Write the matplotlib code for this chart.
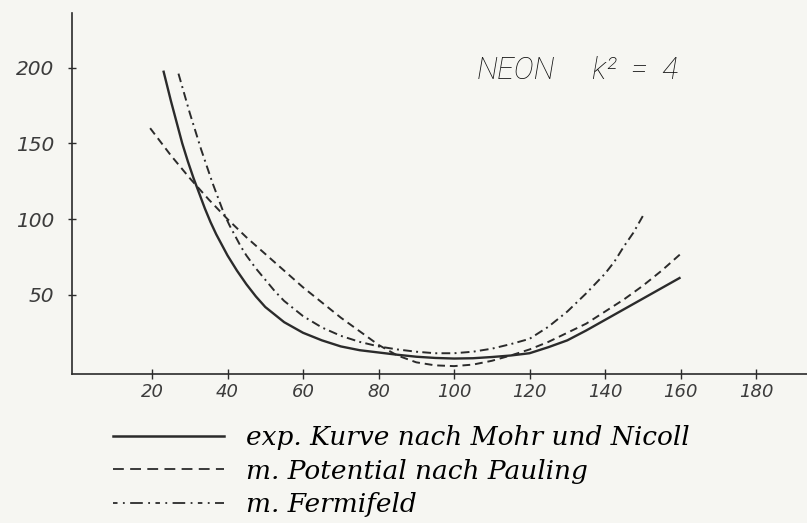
#!/usr/bin/env python3
"""
Neon, k^2 = 4: experimental curve compared with two model calculations.
"""

import matplotlib
matplotlib.use("Agg")
import matplotlib.pyplot as plt
from matplotlib.lines import Line2D

# exp. curve (Mohr and Nicoll)
exp_x = [23, 24, 25, 26.5, 28, 29.5, 31, 32.5, 34, 35.5, 37, 38.5, 40, 42.5,
         45, 47.5, 50, 55, 60, 65, 70, 75, 80, 85, 90, 95, 100, 105, 110, 115,
         120, 125, 130, 135, 140, 145, 150, 155, 160]
exp_y = [198, 188, 178, 164, 150, 138, 127, 117, 107, 98, 90, 83, 76, 66,
         57, 49, 42, 32, 25, 20, 16, 13.5, 12, 10.5, 9.2, 8.4, 8, 8.2, 9, 10,
         11.5, 15.5, 20, 26.5, 33.5, 40.5, 47.5, 54.5, 61.5]

# Pauling potential
pauling_x = [19.5, 25, 30, 35, 40, 45, 50, 55, 60, 65, 70, 75, 80, 85, 90, 95,
             100, 105, 110, 115, 120, 125, 130, 135, 140, 145, 150, 155, 160]
pauling_y = [160, 142, 127, 113, 100, 88, 77, 66, 55, 45, 35, 26, 17, 10, 5.5,
             3.5, 3, 4, 6.5, 10, 14, 19, 25, 31, 39, 47, 56, 66, 77]

# Fermi field
fermi_x = [27, 28.5, 30, 31.5, 33, 34.5, 36, 37.5, 39, 40.5, 42, 43.5, 45,
           47.5, 50, 52.5, 55, 60, 65, 70, 75, 80, 85, 90, 95, 100, 105, 110,
           115, 120, 125, 130, 135, 140, 142.5, 145, 147.5, 150]
fermi_y = [196, 183, 170, 158, 146, 135, 124, 114, 104, 96, 89, 82, 76,
           67.5, 60, 52.5, 46, 36, 28.5, 23, 19, 16, 14, 12.5, 11.5, 11.5,
           12.5, 14.5, 17.5, 21, 29, 39, 51, 64, 72, 82, 91, 102]

x_ticks = [20, 40, 60, 80, 100, 120, 140, 160, 180]
y_ticks = [50, 100, 150, 200]

labels = ["exp. Kurve nach Mohr und Nicoll",
          "m. Potential nach Pauling",
          "m. Fermifeld"]

INK = "#2b2b2b"
PAPER = "#f6f6f2"


def main():
    fig = plt.figure(figsize=(8.07, 5.23), dpi=100, facecolor=PAPER)
    ax = fig.add_axes([72 / 807, 149 / 523, 735 / 807, 361 / 523])
    ax.set_facecolor(PAPER)

    ax.plot(exp_x, exp_y, color=INK, lw=1.7, solid_capstyle="butt")
    ax.plot(pauling_x, pauling_y, color=INK, lw=1.4, dashes=(4, 2.5))
    ax.plot(fermi_x, fermi_y, color=INK, lw=1.4, dashes=(4.5, 2.2, 1, 2.2))

    ax.set_xlim(-1.2, 193.5)
    ax.set_ylim(-2.2, 236)

    for side in ("top", "right"):
        ax.spines[side].set_visible(False)
    for side in ("left", "bottom"):
        ax.spines[side].set_color(INK)
        ax.spines[side].set_linewidth(1.2)

    ax.set_xticks(x_ticks)
    ax.set_yticks(y_ticks)
    ax.set_xticklabels([str(v) for v in x_ticks],
                       family="DejaVu Sans", style="italic", size=13)
    ax.set_yticklabels([str(v) for v in y_ticks],
                       family="DejaVu Sans", style="italic", size=14.5)
    ax.tick_params(axis="x", direction="inout", length=7, width=1,
                   colors=INK, labelcolor="#3c3c3c", pad=3)
    ax.tick_params(axis="y", direction="inout", length=6, width=1,
                   colors=INK, labelcolor="#3c3c3c", pad=10)

    title_font = dict(fontsize=22, fontstyle="italic", fontweight="light",
                      color="#111111", va="center", ha="left",
                      family=["Roboto", "DejaVu Sans"])
    ax.text(0.551, 0.842, "NEON", transform=ax.transAxes, **title_font)
    ax.text(0.7075, 0.842, "k²  =  4", transform=ax.transAxes, **title_font)

    handles = [
        Line2D([], [], color=INK, lw=1.8),
        Line2D([], [], color=INK, lw=1.3, dashes=(6, 3.5)),
        Line2D([], [], color=INK, lw=1.3, dashes=(2.5, 3, 1, 3, 7, 3, 1, 3)),
    ]
    ax.legend(handles, labels, loc="upper left",
              bbox_to_anchor=(113 / 807, 1 - 425 / 523),
              bbox_transform=fig.transFigure, frameon=False,
              borderpad=0, borderaxespad=0, handlelength=4.2,
              handletextpad=0.85, labelspacing=0.33,
              prop=dict(family="DejaVu Serif", style="italic", size=19))

    fig.savefig("out.png", dpi=100, facecolor=PAPER)


if __name__ == "__main__":
    main()
